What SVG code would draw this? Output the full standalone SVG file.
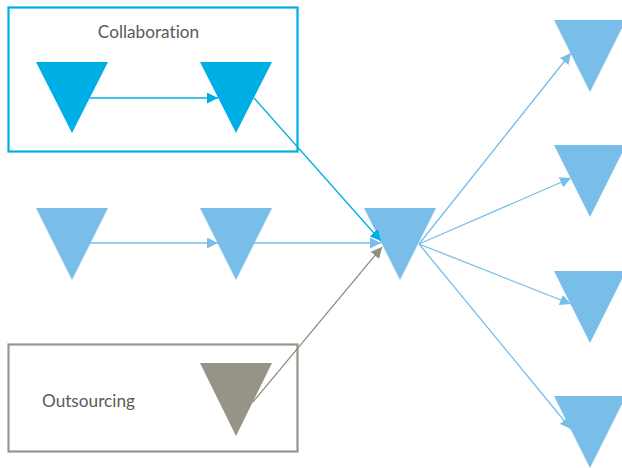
<svg xmlns="http://www.w3.org/2000/svg" width="622" height="468" viewBox="0 0 622 468">
  <style>
    .label { font-family: Lato, "Open Sans", "Liberation Sans", sans-serif; font-size: 17.2px; fill: #5b5a55; font-variant-ligatures: none; font-feature-settings: "liga" 0, "dlig" 0; }
    .tri-blue { fill: #00aee6; }
    .tri-light { fill: #78bee9; }
    .tri-gray { fill: #959486; }
    .frame { fill: none; stroke-width: 2.2; }
    .link { fill: none; stroke-width: 1.3; }
  </style>
  <defs>
    <marker id="head-blue" viewBox="0 0 10 10" refX="10" refY="5" markerWidth="11" markerHeight="11" markerUnits="userSpaceOnUse" orient="auto">
      <path d="M0,0 L10,5 L0,10 Z" fill="#00aee6"/>
    </marker>
    <marker id="head-light" viewBox="0 0 10 10" refX="10" refY="5" markerWidth="11" markerHeight="11" markerUnits="userSpaceOnUse" orient="auto">
      <path d="M0,0 L10,5 L0,10 Z" fill="#78bee9"/>
    </marker>
    <marker id="head-gray" viewBox="0 0 10 10" refX="10" refY="5" markerWidth="11" markerHeight="11" markerUnits="userSpaceOnUse" orient="auto">
      <path d="M0,0 L10,5 L0,10 Z" fill="#8f8e81"/>
    </marker>
  </defs>

  <!-- group frames -->
  <g id="collaboration">
    <rect class="frame" x="8.5" y="7.5" width="289" height="144" stroke="#00aee6"/>
    <text class="label" x="148.5" y="38" text-anchor="middle">Collaboration</text>
  </g>
  <g id="outsourcing">
    <rect class="frame" x="8.5" y="344.5" width="289" height="107" stroke="#98978a"/>
    <text class="label" x="42" y="407">Outsourcing</text>
  </g>

  <!-- nodes -->
  <g id="collab-a"><polygon class="tri-blue" points="36,62 108,62 72,133"/></g>
  <g id="collab-b"><polygon class="tri-blue" points="200,62 272,62 236,133"/></g>
  <g id="mid-a"><polygon class="tri-light" points="36,208 108,208 72,280"/></g>
  <g id="mid-b"><polygon class="tri-light" points="200,208 272,208 236,280"/></g>
  <g id="hub"><polygon class="tri-light" points="364,208 436,208 400,280"/></g>
  <g id="out-a"><polygon class="tri-gray" points="200,363 272,363 236,436"/></g>
  <g id="target-1"><polygon class="tri-light" points="554,20 626,20 590,92"/></g>
  <g id="target-2"><polygon class="tri-light" points="554,145 626,145 590,217"/></g>
  <g id="target-3"><polygon class="tri-light" points="554,271 626,271 590,343"/></g>
  <g id="target-4"><polygon class="tri-light" points="554,396 626,396 590,468"/></g>

  <!-- connectors -->
  <g id="connectors">
    <line class="link" x1="90" y1="98" x2="218" y2="98" stroke="#00aee6" marker-end="url(#head-blue)"/>
    <line class="link" x1="254" y1="98" x2="381" y2="241" stroke="#00aee6" marker-end="url(#head-blue)"/>
    <line class="link" x1="90" y1="243" x2="218" y2="243" stroke="#78bee9" marker-end="url(#head-light)"/>
    <line class="link" x1="254" y1="243" x2="381" y2="243" stroke="#78bee9" marker-end="url(#head-light)"/>
    <line class="link" x1="253" y1="402" x2="382" y2="247" stroke="#8f8e81" marker-end="url(#head-gray)"/>
    <line class="link" x1="419" y1="244" x2="571" y2="53" stroke="#78bee9" marker-end="url(#head-light)"/>
    <line class="link" x1="419" y1="244" x2="571" y2="178" stroke="#78bee9" marker-end="url(#head-light)"/>
    <line class="link" x1="419" y1="244" x2="571" y2="304" stroke="#78bee9" marker-end="url(#head-light)"/>
    <line class="link" x1="419" y1="244" x2="571" y2="429" stroke="#78bee9" marker-end="url(#head-light)"/>
  </g>
</svg>
